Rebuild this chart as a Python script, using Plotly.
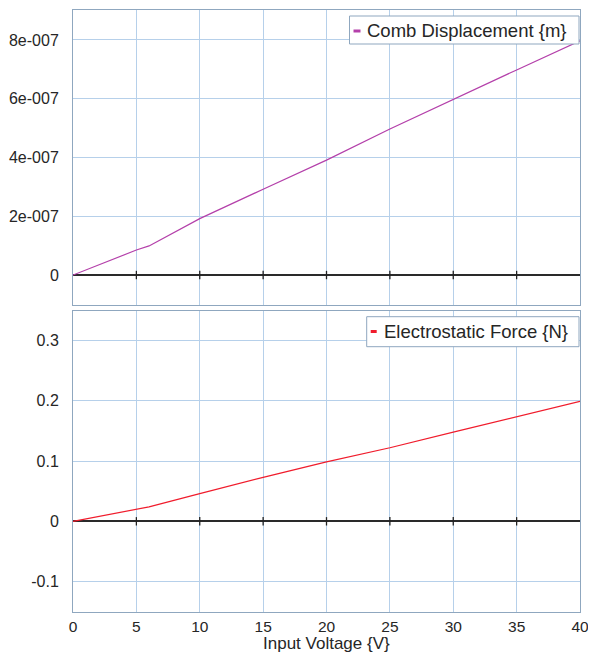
import plotly.graph_objects as go
from plotly.subplots import make_subplots

# ---- data ----
voltage = [0, 5, 6, 10, 15, 20, 25, 30, 35, 40]
displacement = [0, 0.85e-7, 0.99e-7, 1.92e-7, 2.92e-7, 3.91e-7, 4.97e-7, 5.98e-7, 6.98e-7, 7.97e-7]
force = [0, 0.020, 0.024, 0.046, 0.073, 0.0985, 0.122, 0.148, 0.173, 0.199]

x_ticks = [0, 5, 10, 15, 20, 25, 30, 35, 40]
disp_ticks = [0, 2e-7, 4e-7, 6e-7, 8e-7]
disp_ticklabels = ["0", "2e-007", "4e-007", "6e-007", "8e-007"]
force_ticks = [-0.1, 0, 0.1, 0.2, 0.3]
force_ticklabels = ["-0.1", "0", "0.1", "0.2", "0.3"]
zero_tick_x = [5, 10, 15, 20, 25, 30, 35]

disp_name = "Comb Displacement {m}"
force_name = "Electrostatic Force {N}"
x_title = "Input Voltage {V}"

# ---- style ----
DISP_COLOR = "#b440aa"
FORCE_COLOR = "#f01c2c"
GRID = "#b6d0ea"
FRAME = "#8fa7bf"
TXT = "#262626"
FONT = "Liberation Sans, Arial, sans-serif"

OFF = 8  # page body margin of the browser
W, H = 596 - OFF, 654 - OFF
# plot area in page pixels: x 73..580, y 10..612
ML, MR, MT, MB = 73 - OFF, 596 - 580, 10 - OFF, 654 - 612
PW, PH = W - ML - MR, H - MT - MB


def px(x):
    return (x - OFF - ML) / PW


def py(y):
    return (H - MB - (y - OFF)) / PH


fig = make_subplots(rows=2, cols=1, shared_xaxes=False, vertical_spacing=0.0)

fig.add_trace(go.Scatter(x=voltage, y=displacement, mode="lines",
                         line=dict(color=DISP_COLOR, width=1.2),
                         name=disp_name, showlegend=False), row=1, col=1)
fig.add_trace(go.Scatter(x=voltage, y=force, mode="lines",
                         line=dict(color=FORCE_COLOR, width=1.2),
                         name=force_name, showlegend=False), row=2, col=1)

# small tick marks on the zero lines
for r in (1, 2):
    fig.add_trace(go.Scatter(x=zero_tick_x, y=[0] * len(zero_tick_x), mode="markers",
                             marker=dict(symbol="line-ns", size=6,
                                         line=dict(color="#222222", width=1.3)),
                             hoverinfo="skip", showlegend=False), row=r, col=1)

TICKFONT = dict(family=FONT, size=16, color=TXT)
axis_common = dict(showgrid=True, gridcolor=GRID, gridwidth=1,
                   showline=True, linecolor=FRAME, linewidth=1, mirror=True,
                   ticks="")

fig.update_xaxes(range=[0, 40], tickvals=x_ticks, zeroline=False, **axis_common)
fig.update_xaxes(showticklabels=False, row=1, col=1)
fig.update_xaxes(row=2, col=1, ticklabelstandoff=0,
                 tickfont=dict(family=FONT, size=15.5, color=TXT))

fig.update_yaxes(row=1, col=1, range=[-1.02e-7, 9.02e-7], tickvals=disp_ticks,
                 ticktext=disp_ticklabels, zeroline=True, zerolinecolor="#2a2a2a",
                 zerolinewidth=1.5, ticklabelstandoff=10, tickfont=TICKFONT, **axis_common)
fig.update_yaxes(row=2, col=1, range=[-0.1505, 0.349], tickvals=force_ticks,
                 ticktext=force_ticklabels, zeroline=True, zerolinecolor="#2a2a2a",
                 zerolinewidth=1.5, ticklabelstandoff=10, tickfont=TICKFONT, **axis_common)

fig.update_layout(
    yaxis=dict(domain=[py(305), 1.0]),
    yaxis2=dict(domain=[0.0, py(311)]),
)

# ---- legend boxes (drawn) ----
shapes = []
annotations = []


def legend_box(x0, x1, y0, y1, sw_x0, sw_x1, sw_y0, sw_y1, color, text, tx, ty):
    shapes.append(dict(type="rect", xref="paper", yref="paper",
                       x0=px(x0), x1=px(x1), y0=py(y1), y1=py(y0),
                       line=dict(color=FRAME, width=1), fillcolor="white", layer="above"))
    shapes.append(dict(type="rect", xref="paper", yref="paper",
                       x0=px(sw_x0), x1=px(sw_x1), y0=py(sw_y1), y1=py(sw_y0),
                       line=dict(width=0), fillcolor=color, layer="above"))
    annotations.append(dict(xref="paper", yref="paper", x=px(tx), y=py(ty),
                            xanchor="left", yanchor="middle", showarrow=False,
                            text=text, borderpad=0,
                            font=dict(family=FONT, size=18.5, color=TXT)))


legend_box(349.5, 579, 16, 44, 353.5, 360.5, 29.5, 32.5, DISP_COLOR, disp_name, 366, 30.5)
legend_box(366.7, 579, 316.7, 346.7, 370.7, 376.7, 330, 333, FORCE_COLOR, force_name, 382.5, 331.5)

# x-axis title
annotations.append(dict(xref="paper", yref="paper", x=0.5, y=py(654),
                        xanchor="center", yanchor="bottom", showarrow=False,
                        text=x_title, borderpad=0,
                        font=dict(family=FONT, size=17, color=TXT)))

fig.update_layout(
    width=W, height=H,
    margin=dict(l=ML, r=MR, t=MT, b=MB, pad=0),
    paper_bgcolor="white", plot_bgcolor="white",
    font=dict(family=FONT, color=TXT),
    shapes=shapes, annotations=annotations,
    showlegend=False,
)

fig.write_html("out.html")
